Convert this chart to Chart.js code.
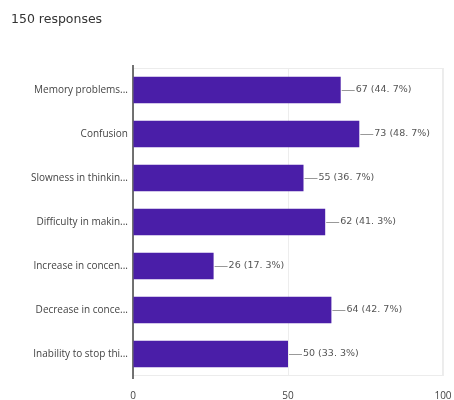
<!DOCTYPE html>
<html>
<head>
<meta charset="utf-8">
<script src="https://cdn.jsdelivr.net/npm/chart.js@4/dist/chart.umd.min.js"></script>
<style>
  html, body { margin: 0; padding: 0; background: #fff; }
  #wrap { position: relative; width: 454px; height: 400px; }
</style>
</head>
<body>
<div id="wrap"><canvas id="c" width="454" height="400"></canvas></div>
<script>
// Survey answers (truncated as shown on the axis)
const categories = [
  'Memory problems...',
  'Confusion',
  'Slowness in thinkin...',
  'Difficulty in makin...',
  'Increase in concen...',
  'Decrease in conce...',
  'Inability to stop thi...'
];
const counts = [67, 73, 55, 62, 26, 64, 50];
const percentLabels = ['44. 7%', '48. 7%', '36. 7%', '41. 3%', '17. 3%', '42. 7%', '33. 3%'];
const xTickLabels = [0, 50, 100];
const responsesTitle = '150 responses';

const FONT = "'Open Sans', 'Noto Sans', sans-serif";
const WIDE_FONT = "'DejaVu Sans', 'Open Sans', sans-serif";

// Heading above the plot
const headingPlugin = {
  id: 'heading',
  afterDraw(chart) {
    const ctx = chart.ctx;
    ctx.save();
    ctx.font = '12.5px ' + WIDE_FONT;
    ctx.fillStyle = '#333';
    ctx.textBaseline = 'middle';
    ctx.textAlign = 'left';
    ctx.fillText(responsesTitle, 11, 20);
    ctx.restore();
  }
};

// Light frame around the plot area, plus the zero axis running slightly past it
const framePlugin = {
  id: 'frame',
  beforeDatasetsDraw(chart) {
    const a = chart.chartArea, ctx = chart.ctx;
    ctx.save();
    ctx.strokeStyle = '#ececec';
    ctx.lineWidth = 1;
    ctx.strokeRect(a.left + 0.5, a.top + 0.5, a.right - a.left - 1, a.bottom - a.top - 1);
    ctx.strokeStyle = '#444';
    ctx.lineWidth = 1.5;
    ctx.beginPath();
    ctx.moveTo(a.left, a.top - 3);
    ctx.lineTo(a.left, a.bottom + 3);
    ctx.stroke();
    ctx.restore();
  }
};

// Count and share next to each bar, joined by a short leader line
const valueLabelPlugin = {
  id: 'valueLabels',
  afterDatasetsDraw(chart) {
    const ctx = chart.ctx;
    const meta = chart.getDatasetMeta(0);
    ctx.save();
    ctx.font = '9.5px ' + WIDE_FONT;
    ctx.fillStyle = '#555';
    ctx.strokeStyle = '#999';
    ctx.lineWidth = 1;
    ctx.textBaseline = 'middle';
    ctx.textAlign = 'left';
    meta.data.forEach((bar, i) => {
      const x = bar.x, y = Math.round(bar.y) + 0.5;
      ctx.beginPath();
      ctx.moveTo(x + 1, y);
      ctx.lineTo(x + 14, y);
      ctx.stroke();
      ctx.fillText(counts[i] + ' (' + percentLabels[i] + ')', x + 15, bar.y);
    });
    ctx.restore();
  }
};

new Chart(document.getElementById('c'), {
  type: 'bar',
  data: {
    labels: categories,
    datasets: [{
      data: counts,
      backgroundColor: '#4a1ea8',
      borderWidth: 0,
      categoryPercentage: 1,
      barPercentage: 0.6
    }]
  },
  options: {
    indexAxis: 'y',
    responsive: false,
    animation: false,
    devicePixelRatio: 1,
    layout: { padding: { top: 68, right: 0, left: 0, bottom: 0 } },
    plugins: {
      legend: { display: false },
      tooltip: { enabled: false },
      title: { display: false }
    },
    scales: {
      x: {
        min: 0,
        max: 100,
        afterBuildTicks(scale) {
          scale.ticks = xTickLabels.map(v => ({ value: v }));
        },
        grid: { color: '#ededed', drawTicks: false },
        border: { display: false },
        ticks: {
          padding: 14,
          color: '#444',
          font: { family: FONT, size: 10 },
          maxRotation: 0
        },
        afterFit(scale) {
          scale.height = 24;
          scale.paddingRight = 11;
        }
      },
      y: {
        grid: { display: false, drawTicks: false },
        border: { display: false },
        ticks: {
          padding: 5,
          color: '#444',
          font: { family: FONT, size: 10 },
          autoSkip: false
        },
        afterFit(scale) { scale.width = 133; }
      }
    }
  },
  plugins: [headingPlugin, framePlugin, valueLabelPlugin]
});
</script>
</body>
</html>
